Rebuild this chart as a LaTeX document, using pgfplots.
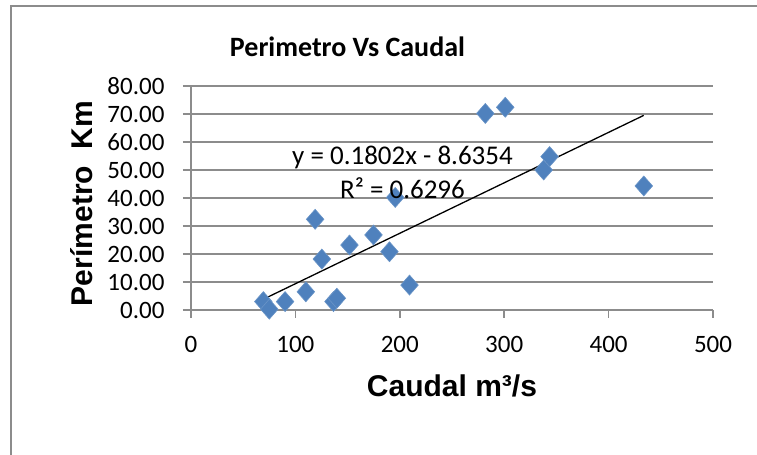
\documentclass[border=0pt]{standalone}
\usepackage{fontspec}
\setmainfont{Carlito}
\newfontfamily\arialfont{Liberation Sans}
\usepackage{pgfplots}
\pgfplotsset{compat=1.18}
\definecolor{xlblue}{HTML}{4F81BD}
\definecolor{xlgrid}{HTML}{8C8C8C}
\pgfdeclareplotmark{xldiamond}{%
 \pgfpathmoveto{\pgfqpoint{0pt}{\pgfplotmarksize}}%
 \pgfpathlineto{\pgfqpoint{.88\pgfplotmarksize}{0pt}}%
 \pgfpathlineto{\pgfqpoint{0pt}{-\pgfplotmarksize}}%
 \pgfpathlineto{\pgfqpoint{-.88\pgfplotmarksize}{0pt}}%
 \pgfpathclose
 \pgfusepathqfillstroke}
\begin{document}
\begin{tikzpicture}
\path[use as bounding box] (0,0) rectangle (757bp,455bp);
\draw[xlgrid, line width=2bp] (11bp,0) -- (11bp,449bp) -- (757bp,449bp);
\begin{axis}[
 at={(191bp,145bp)}, anchor=south west,
 scale only axis, width=522bp, height=224bp,
 xmin=0, xmax=500, ymin=0, ymax=80,
 xtick={0,100,...,500}, ytick={0,10,...,80},
 axis x line=bottom, axis y line=left,
 axis line style={-, xlgrid, line width=1.5bp},
 ymajorgrids, major grid style={xlgrid, line width=1.5bp},
 tick style={xlgrid, line width=1.5bp},
 major tick length=8bp, tick align=outside,
 ticklabel style={font=\fontsize{25bp}{30bp}\selectfont},
 yticklabel style={xshift=-15bp, /pgf/number format/.cd, fixed, fixed zerofill, precision=2, assume math mode=true},
 xticklabel style={yshift=-15bp, /pgf/number format/assume math mode=true},
 clip=false,
]
\addplot[only marks, mark=xldiamond, mark size=10bp,
  mark options={fill=xlblue, draw=xlblue!85!white, line width=0.6bp}] coordinates {
 (69.3,3.0) (75,0.3) (90.1,3.0) (110,6.5) (118.9,32.4) (125.3,18.2)
 (136.5,3.0) (139.7,4.2) (151.8,23.2) (174.8,26.8) (190.1,20.8) (195.6,40.2)
 (209.3,8.9) (281.9,70.2) (301,72.4) (337.8,50) (343.5,54.8) (433.7,44.3)
};
\addplot[black, line width=1.3bp, no marks] coordinates {(69.3,3.85) (433.7,69.52)};
\end{axis}
\node[font=\bfseries\fontsize{28bp}{34bp}\selectfont] at (347.5bp,408bp) {Perimetro Vs Caudal};
\node[rotate=90, font=\arialfont\bfseries\fontsize{30bp}{36bp}\selectfont] at (82bp,251.5bp) {Perímetro\ \ Km};
\node[font=\arialfont\bfseries\fontsize{30bp}{36bp}\selectfont] at (452bp,69bp) {Caudal m³/s};
\node[font=\fontsize{27bp}{32bp}\selectfont] at (402.5bp,297.5bp) {y = 0.1802x - 8.6354};
\node[font=\fontsize{27bp}{32bp}\selectfont] at (402.5bp,267bp) {R² = 0.6296};
\end{tikzpicture}
\end{document}
